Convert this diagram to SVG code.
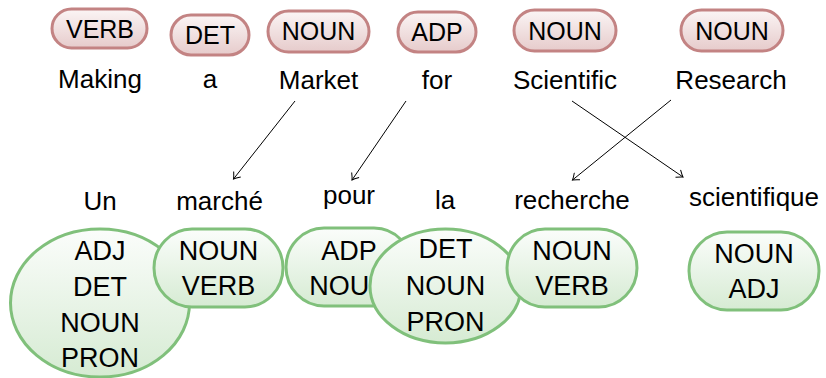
<svg xmlns="http://www.w3.org/2000/svg" width="826" height="378" viewBox="0 0 826 378">
  <defs>
    <linearGradient id="gRed" x1="0" y1="0" x2="0" y2="1">
      <stop offset="0" stop-color="#fbf5f5"/>
      <stop offset="1" stop-color="#e6cbcb"/>
    </linearGradient>
    <linearGradient id="gGreen" x1="0" y1="0" x2="0" y2="1">
      <stop offset="0" stop-color="#fbfdfb"/>
      <stop offset="1" stop-color="#d6ebd3"/>
    </linearGradient>
    <marker id="arr" viewBox="-7 -5 9 10" markerWidth="9" markerHeight="10" refX="0" refY="0" orient="auto" markerUnits="userSpaceOnUse">
      <path d="M -6 -4.5 Q -2 -1 0 0 Q -2 1 -6 4.5" fill="none" stroke="#000" stroke-width="1"/>
    </marker>
  </defs>
  <style>
    text { font-family: "Liberation Sans", Arial, sans-serif; fill: #000; text-anchor: middle; }
    .word { font-size: 26px; }
    .tag { font-size: 25px; }
    .ctag { font-size: 27px; }
    .pill { fill: url(#gRed); stroke: #c38383; stroke-width: 3; }
    .cand { fill: url(#gGreen); stroke: #80c07b; stroke-width: 3; }
    .link { fill: none; stroke: #000; stroke-width: 1; marker-end: url(#arr); }
  </style>

  <!-- English tokens with their tags -->
  <g id="en-making">
    <rect class="pill" x="52" y="9" width="95" height="39" rx="19.5"/>
    <text class="tag" x="100" y="38">VERB</text>
    <text class="word" x="100" y="88">Making</text>
  </g>
  <g id="en-a">
    <rect class="pill" x="171" y="15" width="78" height="40" rx="20"/>
    <text class="tag" x="210" y="44">DET</text>
    <text class="word" x="210" y="88">a</text>
  </g>
  <g id="en-market">
    <rect class="pill" x="268" y="11" width="101" height="41" rx="20.5"/>
    <text class="tag" x="318.5" y="40">NOUN</text>
    <text class="word" x="318.5" y="89">Market</text>
  </g>
  <g id="en-for">
    <rect class="pill" x="398" y="12" width="78" height="40" rx="20"/>
    <text class="tag" x="437" y="40.5">ADP</text>
    <text class="word" x="437" y="89">for</text>
  </g>
  <g id="en-scientific">
    <rect class="pill" x="514" y="10" width="102" height="41" rx="20.5"/>
    <text class="tag" x="565" y="40">NOUN</text>
    <text class="word" x="565" y="89">Scientific</text>
  </g>
  <g id="en-research">
    <rect class="pill" x="681" y="10" width="102" height="41" rx="20.5"/>
    <text class="tag" x="732" y="40">NOUN</text>
    <text class="word" x="731" y="89">Research</text>
  </g>

  <!-- French tokens with candidate tags -->
  <g id="fr-un">
    <text class="word" x="100" y="210">Un</text>
    <ellipse class="cand" cx="100" cy="303" rx="89.5" ry="74"/>
    <text class="ctag" x="100" y="260">ADJ</text>
    <text class="ctag" x="100" y="296">DET</text>
    <text class="ctag" x="100" y="332">NOUN</text>
    <text class="ctag" x="100" y="367">PRON</text>
  </g>
  <g id="fr-marche">
    <text class="word" x="219.5" y="210">marché</text>
    <rect class="cand" x="154" y="229" width="129" height="78" rx="38" ry="39"/>
    <text class="ctag" x="218.5" y="260">NOUN</text>
    <text class="ctag" x="218.5" y="295">VERB</text>
  </g>
  <g id="fr-pour">
    <text class="word" x="349" y="204">pour</text>
    <rect class="cand" x="286" y="228" width="126" height="78" rx="38" ry="39"/>
    <text class="ctag" x="349" y="260">ADP</text>
    <text class="ctag" x="349" y="295">NOUN</text>
  </g>
  <g id="fr-la">
    <text class="word" x="445" y="209">la</text>
    <ellipse class="cand" cx="445.5" cy="286" rx="75.5" ry="57"/>
    <text class="ctag" x="445.5" y="258">DET</text>
    <text class="ctag" x="445.5" y="295">NOUN</text>
    <text class="ctag" x="445.5" y="331">PRON</text>
  </g>
  <g id="fr-recherche">
    <text class="word" x="572" y="209">recherche</text>
    <rect class="cand" x="507" y="229" width="130" height="78" rx="38" ry="39"/>
    <text class="ctag" x="572" y="260">NOUN</text>
    <text class="ctag" x="572" y="295">VERB</text>
  </g>
  <g id="fr-scientifique">
    <text class="word" x="754" y="206">scientifique</text>
    <rect class="cand" x="689" y="232" width="130" height="78" rx="38" ry="39"/>
    <text class="ctag" x="754" y="263">NOUN</text>
    <text class="ctag" x="754" y="298">ADJ</text>
  </g>

  <!-- alignment links -->
  <g id="links">
    <line class="link" x1="295" y1="101" x2="233.5" y2="179"/>
    <line class="link" x1="406" y1="101" x2="352" y2="180"/>
    <line class="link" x1="572" y1="101" x2="683" y2="177"/>
    <line class="link" x1="671" y1="100" x2="572.5" y2="180"/>
  </g>
</svg>
